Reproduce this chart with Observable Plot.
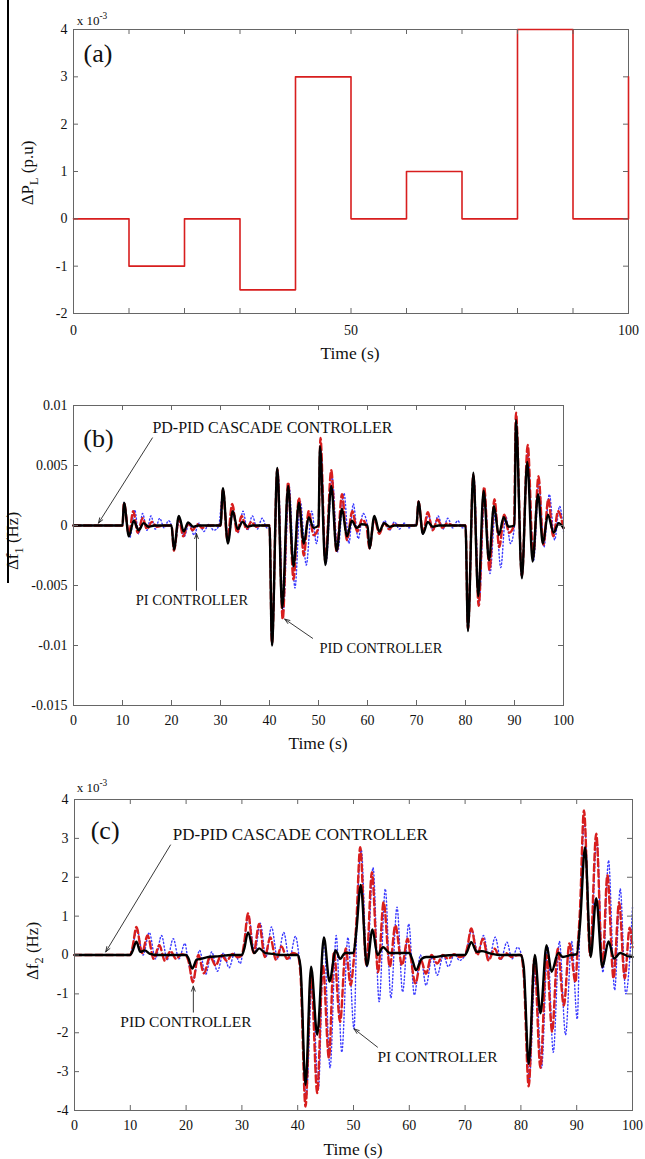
<!DOCTYPE html>
<html><head><meta charset="utf-8">
<script src="https://cdn.jsdelivr.net/npm/d3@7"></script>
<script src="https://cdn.jsdelivr.net/npm/@observablehq/plot@0.6"></script>
<style>
body{margin:0;background:#fff;}
#wrap{position:relative;width:645px;height:1159px;overflow:hidden;background:#fff;}
#wrap svg{display:block;}
#stray{position:absolute;left:7px;top:0;width:2px;height:583px;background:#000;z-index:2;}
</style></head><body><div id="wrap"></div>
<script>
// ---------- DATA ----------
// (a) load disturbance, x10^-3 p.u.
const loadTime  = [0, 10, 20, 30, 40, 50, 60, 70, 80, 90, 100];
const loadValue = [0, -1, 0, -1.5, 3, 0, 1, 0, 4, 0, 3];
const aXTicks = [0,10,20,30,40,50,60,70,80,90,100];
const aXLabels = [0, 50, 100];
const aYTicks = [-2,-1,0,1,2,3,4];

// (b) Δf1 (Hz) — [time, value]
const bPDPID = [[0,0],[10,0],[10.3,0.0019],[11.3,-0.0009],[12.3,0.0004],[13.3,-0.0004],[14.3,0.0002],[15.3,-0.0001],[16.5,0],[20,0],
[20.5,-0.002],[21.5,0.0008],[22.5,-0.0005],[23.4,0.00025],[24.4,-0.0001],[25.5,0],[30,0],
[30.5,0.0031],[31.5,-0.0015],[32.5,0.0012],[33.5,-0.0003],[34.5,0.0003],[35.5,-0.0001],[36.5,0],[40,0],
[40.5,-0.01],[41.6,0.0048],[42.6,-0.0069],[43.8,0.0033],[44.9,-0.0034],[46,0.0019],[47,-0.0015],[48,0.0007],[49,-0.0002],[50,0],
[50.3,0.0066],[51.4,-0.0033],[52.6,0.0033],[53.7,-0.0021],[54.8,0.0014],[55.8,-0.0009],[56.8,0.0004],[57.8,-0.0002],[58.8,0.0001],[60,0],
[60.4,-0.0019],[61.4,0.0008],[62.4,-0.0005],[63.4,0.0002],[64.5,-0.0001],[65.5,0],[70,0],
[70.4,0.002],[71.3,-0.0007],[72.3,0.0003],[73.3,-0.0001],[74.5,0],[80,0],
[80.5,-0.0088],[81.6,0.0044],[82.6,-0.0059],[83.7,0.0029],[84.8,-0.0029],[85.8,0.0016],[86.8,-0.0008],[87.8,0.0007],[88.8,-0.0001],[90,0],
[90.3,0.0088],[91.5,-0.0044],[92.6,0.0053],[93.7,-0.003],[94.8,0.0026],[95.8,-0.0015],[96.8,0.0009],[98,-0.0006],[99,0.0002],[100,-0.0002]];
const bPID = [[0,0],[10,0],[10.3,0.0019],[11.3,-0.0007],[12.2,0.0012],[13.1,-0.0006],[14.1,0.0006],[15,-0.0003],[16,0.0003],[17,-0.0001],[18.5,0],[20,0],
[20.5,-0.0021],[21.5,0.0006],[22.4,-0.0009],[23.4,0.0002],[24.3,-0.0004],[25.3,0.0001],[26.3,-0.0002],[27.5,0],[30,0],
[30.5,0.003],[31.4,-0.0012],[32.4,0.0018],[33.4,-0.0006],[34.3,0.0008],[35.3,-0.0003],[36.3,0.0003],[37.3,-0.0001],[38.5,0],[40,0],
[40.5,-0.0098],[41.6,0.0047],[42.7,-0.0078],[43.8,0.0036],[44.9,-0.0045],[46,0.0023],[47,-0.0025],[48,0.0012],[49,-0.0008],[50,-0.0002],
[50.4,0.0073],[51.4,-0.003],[52.6,0.0046],[53.7,-0.0022],[54.8,0.0026],[55.8,-0.0012],[56.9,0.0012],[57.9,-0.0005],[58.9,0.0005],[59.8,-0.0001],
[60.4,-0.0019],[61.4,0.0006],[62.4,-0.0007],[63.4,0.0002],[64.4,-0.0003],[65.4,0.0001],[66.5,0],[70,0],
[70.4,0.002],[71.3,-0.0006],[72.3,0.0011],[73.3,-0.0004],[74.3,0.0005],[75.3,-0.0002],[76.3,0.0002],[77.5,0],[80,0],
[80.5,-0.0086],[81.6,0.0042],[82.7,-0.0067],[83.8,0.0032],[84.9,-0.0037],[85.9,0.0022],[86.9,-0.0018],[87.9,0.0009],[88.9,-0.0006],[89.9,0],
[90.3,0.0094],[91.5,-0.0042],[92.7,0.0067],[93.8,-0.0026],[94.9,0.0041],[95.9,-0.0016],[96.9,0.0022],[97.9,-0.0009],[98.9,0.0012],[100,-0.0003]];
const bPI = [[0,0],[10,0],[10.3,0.0019],[11.5,-0.001],[12.5,0.0013],[13.3,-0.0007],[14.1,0.001],[15,-0.0004],[15.8,0.0008],[16.7,-0.0003],[17.6,0.0006],[18.5,-0.0002],[19.4,0.0004],[20,0],
[20.6,-0.0017],[21.6,0.0004],[22.6,-0.0009],[23.6,0.0002],[24.6,-0.0008],[25.6,0.0002],[26.6,-0.0005],[27.6,0.0001],[28.6,-0.0004],[29.6,-0.0001],
[30.5,0.0028],[31.6,-0.0012],[32.6,0.0012],[33.6,-0.0006],[34.6,0.0012],[35.5,-0.0004],[36.5,0.0008],[37.5,-0.0003],[38.5,0.0006],[39.5,-0.0002],[40,0],
[40.5,-0.0095],[41.7,0.0045],[42.8,-0.0072],[44,0.0033],[45.2,-0.0052],[46.3,0.002],[47.5,-0.0033],[48.6,0.0012],[49.6,-0.0015],[50,0],
[50.4,0.0068],[51.5,-0.0032],[52.8,0.004],[53.9,-0.0022],[55.2,0.0027],[56.2,-0.0015],[57.1,0.0018],[58.1,-0.0011],[59.1,0.001],[60,0],
[60.4,-0.0019],[61.5,0.0006],[62.4,-0.0005],[63.5,0.0004],[64.5,-0.0004],[65.5,0.0003],[66.5,-0.0003],[67.5,0.0002],[68.5,-0.0002],[69.5,0.0001],[70,0],
[70.4,0.002],[71.3,-0.0007],[72.4,0.0009],[73.4,-0.0004],[74.4,0.0008],[75.4,-0.0003],[76.4,0.0006],[77.4,-0.0002],[78.4,0.0004],[79.4,-0.0002],[80,0],
[80.5,-0.0086],[81.7,0.0041],[82.8,-0.0064],[83.9,0.0027],[85,-0.004],[86.1,0.0013],[87.2,-0.0035],[88.2,0.0008],[89.2,-0.0015],[90,0],
[90.3,0.009],[91.5,-0.0043],[92.7,0.006],[93.9,-0.0029],[95,0.0036],[96,-0.0018],[97.1,0.0026],[98.2,-0.0012],[99.2,0.0016],[100,-0.0005]];
const bXTicks = [0,10,20,30,40,50,60,70,80,90,100];
const bYTicks = [-0.015,-0.01,-0.005,0,0.005,0.01];

// (c) Δf2 (x10^-3 Hz) — [time, value]
const cPDPID = [[0,0],[10,0],[10.4,0.1],[11.1,0.34],[11.8,0.08],[12.6,0.12],[13.5,0.03],[15,0],[20,0],
[20.4,-0.08],[21.1,-0.35],[21.9,-0.12],[22.6,-0.1],[24,-0.05],[26,-0.03],[28,0],[30,0],
[30.4,0.15],[31.1,0.58],[32.2,0.05],[33.1,0.17],[34.2,0.05],[35.5,0.03],[37,0],[40,0],
[40.5,-0.3],[41.4,-3.34],[42.4,-0.3],[43.5,-2.05],[44.7,0.45],[45.7,-0.68],[46.8,0.12],[47.6,-0.1],[48.5,0.05],[50,0.05],
[50.5,0.6],[51.3,1.8],[52.4,-0.28],[53.4,0.66],[54.3,0],[55.3,0.2],[56.5,0.05],[58,0.05],[60,0.05],
[60.5,-0.1],[61.2,-0.39],[62.2,-0.1],[63,-0.05],[64.5,-0.05],[66,-0.02],[68,0],[70,0],
[70.4,0.1],[71.1,0.33],[72.1,0.08],[73,0.1],[74.5,0.04],[76,0],[80,0],
[80.5,-0.3],[81.4,-2.8],[82.5,0],[83.5,-1.5],[84.6,0.25],[85.5,-0.43],[86.7,0.05],[87.5,-0.05],[89,0],[90,0.02],
[90.6,0.8],[91.5,2.77],[92.5,-0.05],[93.5,1.46],[94.6,-0.31],[95.7,0.35],[96.7,-0.09],[97.8,0.05],[99,-0.02],[100,-0.05]];
const cPID = [[0,0],[10,0],[10.4,0.2],[11.1,0.72],[12.1,0.05],[13.1,0.5],[14.2,-0.1],[15.2,0.25],[16.2,-0.15],[17.2,0.1],[18.2,-0.1],[19.2,0.02],[20,-0.02],
[20.5,-0.2],[21.2,-0.7],[22.2,0],[23.2,-0.47],[24.3,-0.04],[25.3,-0.27],[26.3,0],[27.3,-0.15],[28.3,0.03],[29.3,-0.06],[30,0],
[30.4,0.3],[31.1,1.07],[32.1,0.05],[33.1,0.8],[34.1,-0.05],[35.1,0.45],[36.1,-0.12],[37.1,0.22],[38.1,-0.1],[39.1,0.05],[40,0],
[40.5,-0.5],[41.4,-3.9],[42.4,-0.56],[43.5,-3.55],[44.5,-0.26],[45.6,-2.65],[46.5,0.08],[47.6,-1.72],[48.6,0.17],[49.5,-0.78],[50,-0.2],
[50.5,0.8],[51.2,2.77],[52.3,-0.26],[53.3,2.13],[54.4,-0.44],[55.4,1.36],[56.5,-0.3],[57.5,0.76],[58.7,-0.26],[59.7,0.42],[60.2,0],
[61.1,-0.73],[62.1,-0.14],[63,-0.48],[64,0],[65,-0.22],[66,0],[67,-0.1],[68,0.02],[69,-0.05],[70,0],
[70.4,0.2],[71.1,0.68],[72.2,0],[73.2,0.42],[74.2,-0.14],[75.3,0.16],[76.3,-0.1],[77.3,0.05],[78.3,-0.05],[79.5,0],[80,0],
[80.5,-0.5],[81.4,-3.38],[82.4,-0.1],[83.5,-2.9],[84.6,0],[85.6,-1.97],[86.6,0.16],[87.7,-1.3],[88.7,0.3],[89.8,-0.7],[90.1,0],
[90.6,1.2],[91.3,3.72],[92.4,0],[93.5,3.12],[94.6,-0.3],[95.5,2.05],[96.6,-0.6],[97.6,1.35],[98.6,-0.6],[99.5,0.7],[100,0.2]];
const cPI = [[0,0],[10,0],[10.4,0.2],[11.2,0.65],[12.3,0],[13.4,0.58],[14.5,-0.1],[15.6,0.5],[16.6,-0.12],[17.7,0.42],[18.7,-0.1],[19.8,0.3],[20.2,0],
[21.3,-0.65],[22.4,0.12],[23.5,-0.5],[24.6,0.08],[25.6,-0.42],[26.7,0.05],[27.7,-0.33],[28.7,0.05],[29.7,-0.22],[30.2,0.1],
[31.2,1.0],[32.3,0.05],[33.3,0.82],[34.3,-0.05],[35.3,0.72],[36.4,-0.1],[37.5,0.58],[38.5,-0.12],[39.6,0.48],[40.2,0],
[40.6,-0.6],[41.5,-3.7],[42.6,-0.7],[43.7,-3.45],[44.7,0.45],[45.8,-2.9],[46.9,0.5],[47.9,-2.5],[49,0.45],[50.1,-1.9],
[50.6,0.8],[51.4,2.7],[52.4,-0.3],[53.5,2.25],[54.6,-1.2],[55.7,1.7],[56.7,-1.1],[57.8,1.23],[58.8,-0.95],[59.9,0.8],[60.9,-1.03],
[62,0],[63,-0.78],[64.1,-0.05],[65,-0.52],[66.1,0],[67,-0.3],[68.1,0.02],[69,-0.14],[70,0],
[70.4,0.2],[71.2,0.65],[72.3,0.05],[73.3,0.5],[74.3,-0.1],[75.4,0.46],[76.4,-0.12],[77.5,0.33],[78.4,-0.1],[79.4,0.2],[80.1,0],
[80.6,-0.5],[81.5,-3.2],[82.6,-0.3],[83.7,-2.9],[84.8,0.2],[85.8,-2.5],[86.9,0.35],[88,-2.05],[89.1,0.35],[90.1,-1.65],
[90.6,1.0],[91.4,3.4],[92.5,0.1],[93.6,3.0],[94.7,-0.45],[95.7,2.43],[96.8,-0.9],[97.8,1.7],[98.8,-1.0],[100,1.23]];
const cXTicks = [0,10,20,30,40,50,60,70,80,90,100];
const cYTicks = [-4,-3,-2,-1,0,1,2,3,4];

// annotations (data coordinates)
const aNotes = [{t:1.8, v:3.49, text:"(a)", size:26}];
const bNotes = [{t:2.0, v:0.00725, text:"(b)", size:26},
  {t:16.1, v:0.0081, text:"PD-PID CASCADE CONTROLLER", size:16},
  {t:12.7, v:-0.00625, text:"PI CONTROLLER", size:14.5},
  {t:50.2, v:-0.0102, text:"PID CONTROLLER", size:14.5}];
const bArrows = [{t1:16.1, v1:0.0073, t2:5.1, v2:0.0002},
  {t1:25.1, v1:-0.0054, t2:25.1, v2:-0.00067},
  {t1:48.8, v1:-0.0094, t2:43.1, v2:-0.0078}];
const cNotes = [{t:2.9, v:3.21, text:"(c)", size:26},
  {t:17.6, v:3.11, text:"PD-PID CASCADE CONTROLLER", size:17},
  {t:8.2, v:-1.72, text:"PID CONTROLLER", size:15.5},
  {t:54.3, v:-2.62, text:"PI CONTROLLER", size:15.5}];
const cArrows = [{t1:17.2, v1:2.83, t2:5.6, v2:0.08},
  {t1:21.3, v1:-1.47, t2:21.3, v2:-0.8},
  {t1:54.3, v1:-2.37, t2:50.1, v2:-1.9}];

// ---------- STYLE ----------
const SERIF = "'Liberation Serif','Times New Roman','DejaVu Serif',serif";
const FRAME = "#666";
const RED = "#d81e1e";
const BLUE = "#3a3aff";

function inward(xT, yT, innerW, innerH) {
  const L = 5;
  return [
    Plot.tickX(xT, {x: d => d, insetTop: innerH - L, stroke: FRAME}),
    Plot.tickX(xT, {x: d => d, insetBottom: innerH - L, stroke: FRAME}),
    Plot.tickY(yT, {y: d => d, insetRight: innerW - L, stroke: FRAME}),
    Plot.tickY(yT, {y: d => d, insetLeft: innerW - L, stroke: FRAME})
  ];
}
function notes(arr) {
  return arr.map(n => Plot.text([n], {x: "t", y: "v", text: "text", textAnchor: "start",
    fontSize: n.size, fontFamily: SERIF, fill: "#111"}));
}
function arrows(arr) {
  return Plot.arrow(arr, {x1: "t1", y1: "v1", x2: "t2", y2: "v2", stroke: "#222",
    strokeWidth: 0.9, headLength: 9, headAngle: 40});
}
function series(pd, pid, pi) {
  const acc = d => d[0], val = d => d[1];
  return [
    Plot.line(pi, {x: acc, y: val, stroke: BLUE, strokeWidth: 1.4, strokeDasharray: "1.2,2.4", curve: "monotone-x"}),
    Plot.line(pid, {x: acc, y: val, stroke: RED, strokeWidth: 2.4, strokeDasharray: "7,3.5", curve: "monotone-x"}),
    Plot.line(pd, {x: acc, y: val, stroke: "#000", strokeWidth: 2.4, curve: "monotone-x"})
  ];
}
function addLabel(svg, x, y, parts, size, rotate) {
  const t = d3.select(svg).append("text")
    .attr("transform", `translate(${x},${y})` + (rotate ? " rotate(-90)" : ""))
    .attr("text-anchor", "middle").attr("font-family", SERIF).attr("font-size", size)
    .attr("fill", "#111");
  let shift = 0;
  for (const [s, kind] of parts) {
    const sp = t.append("tspan").text(s);
    let target = kind === "sub" ? size * 0.3 : kind === "sup" ? -size * 0.45 : 0;
    if (target !== shift) sp.attr("dy", target - shift);
    shift = target;
    if (kind) sp.attr("font-size", size * 0.72);
  }
  return t;
}

const wrap = document.getElementById("wrap");
const baseStyle = {fontFamily: SERIF, fontSize: "14px", color: "#111", background: "#fff", overflow: "visible"};

// ---------- (a) ----------
{
  const mT = 29, mB = 67, mL = 73, mR = 17, H = 380;
  const loads = loadTime.map((t, i) => ({t, v: loadValue[i]}));
  const svg = Plot.plot({
    width: 645, height: H, marginTop: mT, marginBottom: mB, marginLeft: mL, marginRight: mR,
    style: baseStyle,
    x: {domain: [0, 100], label: null},
    y: {domain: [-2, 4], label: null},
    marks: [
      Plot.frame({stroke: FRAME}),
      Plot.line(loads, {x: "t", y: "v", stroke: RED, strokeWidth: 1.6, curve: "step-after"}),
      ...inward(aXTicks, aYTicks, 645 - mL - mR, H - mT - mB),
      Plot.axisX(aXLabels, {tickSize: 0, tickPadding: 12, fontSize: 14, label: null, tickFormat: d => String(d)}),
      Plot.axisY(aYTicks, {tickSize: 0, tickPadding: 6, fontSize: 14, label: null, tickFormat: d => String(d)}),
      ...notes(aNotes)
    ]
  });
  wrap.appendChild(svg);
  addLabel(svg, 350, 359, [["Time (s)", ""]], 17.5, false);
  addLabel(svg, 33, 173, [["\u0394P", ""], ["L", "sub"], [" (p.u)", ""]], 17, true);
  addLabel(svg, 92, 25, [["x 10", ""], ["-3", "sup"]], 13, false);
}

// ---------- (b) ----------
{
  const mT = 25, mB = 55, mL = 73, mR = 82, H = 380;
  const svg = Plot.plot({
    width: 645, height: H, marginTop: mT, marginBottom: mB, marginLeft: mL, marginRight: mR,
    style: baseStyle,
    x: {domain: [0, 100], label: null},
    y: {domain: [-0.015, 0.01], label: null},
    marks: [
      ...series(bPDPID, bPID, bPI),
      Plot.frame({stroke: FRAME}),
      ...inward(bXTicks, bYTicks, 645 - mL - mR, H - mT - mB),
      Plot.axisX(bXTicks, {tickSize: 0, tickPadding: 10, fontSize: 14, label: null, tickFormat: d => String(d)}),
      Plot.axisY(bYTicks, {tickSize: 0, tickPadding: 6, fontSize: 14, label: null,
        tickFormat: d => String(Math.round(d * 1000) / 1000)}),
      arrows(bArrows),
      ...notes(bNotes)
    ]
  });
  wrap.appendChild(svg);
  addLabel(svg, 318, 369, [["Time (s)", ""]], 17.5, false);
  addLabel(svg, 18, 161, [["\u0394f", ""], ["1", "sub"], [" (Hz)", ""]], 17, true);
}

// ---------- (c) ----------
{
  const mT = 39, mB = 49, mL = 74, mR = 13, H = 399;
  const svg = Plot.plot({
    width: 645, height: H, marginTop: mT, marginBottom: mB, marginLeft: mL, marginRight: mR,
    style: baseStyle,
    x: {domain: [0, 100], label: null},
    y: {domain: [-4, 4], label: null},
    marks: [
      ...series(cPDPID, cPID, cPI),
      Plot.frame({stroke: FRAME}),
      ...inward(cXTicks, cYTicks, 645 - mL - mR, H - mT - mB),
      Plot.axisX(cXTicks, {tickSize: 0, tickPadding: 10, fontSize: 14, label: null, tickFormat: d => String(d)}),
      Plot.axisY(cYTicks, {tickSize: 0, tickPadding: 6, fontSize: 14, label: null, tickFormat: d => String(d)}),
      arrows(cArrows),
      ...notes(cNotes)
    ]
  });
  wrap.appendChild(svg);
  addLabel(svg, 353, 395, [["Time (s)", ""]], 17.5, false);
  addLabel(svg, 38, 191, [["\u0394f", ""], ["2", "sub"], [" (Hz)", ""]], 17, true);
  addLabel(svg, 92, 32, [["x 10", ""], ["-3", "sup"]], 13, false);
}

const stray = document.createElement("div");
stray.id = "stray";
wrap.appendChild(stray);
</script></body></html>
